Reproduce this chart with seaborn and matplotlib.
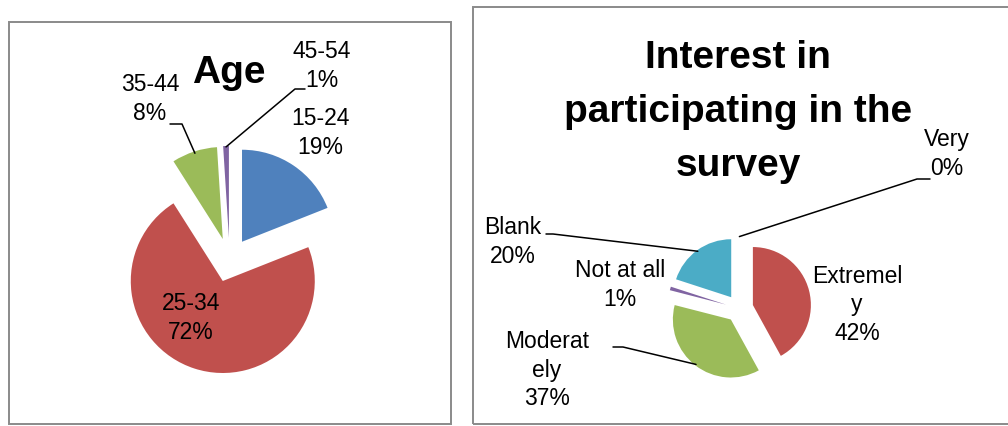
import matplotlib
matplotlib.use("Agg")
import matplotlib.pyplot as plt
from matplotlib.patches import Rectangle
import numpy as np
import seaborn as sns

# ---- data -------------------------------------------------------------
age_groups = ["15-24", "25-34", "35-44", "45-54"]
age_share = [19, 72, 8, 1]

interest_levels = ["Very", "Extremely", "Moderately", "Not at all", "Blank"]
interest_text = ["Very", "Extremel\ny", "Moderat\nely", "Not at all", "Blank"]
interest_share = [0, 42, 37, 1, 20]

age_title = ["Age"]
interest_title = ["Interest in", "participating in the", "survey"]

# ---- style ------------------------------------------------------------
sns.set_theme(style="white")
plt.rcParams["font.family"] = ["Liberation Sans", "DejaVu Sans"]

office = ["#4F81BD", "#C0504D", "#9BBB59", "#8064A2", "#4BACC6"]
age_colors = office[:4]
interest_colors = office[:5]

W, H = 1008, 426
fig = plt.figure(figsize=(W / 100, H / 100), dpi=100)
ax = fig.add_axes([0, 0, 1, 1])


def Y(y):
    """Convert a top-down pixel row into the upward data axis."""
    return H - y


def pct(v):
    return f"{v}%"


def tip(wedge, frac=1.0):
    """Point on a wedge's arc along its bisector."""
    cx, cy = wedge.center
    th = np.deg2rad(0.5 * (wedge.theta1 + wedge.theta2))
    return cx + frac * wedge.r * np.cos(th), cy + frac * wedge.r * np.sin(th)


def title_lines(x, first_baseline, lines, step=54):
    for i, line in enumerate(lines):
        ax.text(x, Y(first_baseline + i * step), line, ha="center",
                va="baseline", fontsize=title_size, fontweight="bold",
                color="black")


label_size = 16.5
title_size = 28

# ---- left chart: age --------------------------------------------------
r_age = 92
age_wedges, _ = ax.pie(
    age_share, colors=age_colors, startangle=90, counterclock=False,
    explode=[0.24 * r_age] * len(age_share), radius=r_age,
    center=(229.6, Y(260)), wedgeprops=dict(linewidth=0),
)
title_lines(229, 83, age_title)

age_label_pos = {"15-24": (320, 133), "25-34": (191, 318),
                 "35-44": (150, 99), "45-54": (322, 66)}
for name, val in zip(age_groups, age_share):
    x, y = age_label_pos[name]
    ax.text(x, Y(y), f"{name}\n{pct(val)}", ha="center", va="center",
            fontsize=label_size, linespacing=1.3, color="black")

# leader lines for the two small slices
w = age_wedges[age_groups.index("35-44")]
ex, ey = tip(w, 0.98)
ax.plot([170, 182, ex], [Y(124), Y(124), ey], color="black", lw=1.1)
w = age_wedges[age_groups.index("45-54")]
ex, ey = tip(w, 0.99)
ax.plot([305, 295, ex], [Y(89), Y(89), ey], color="black", lw=1.1)

# ---- right chart: interest --------------------------------------------
r_int = 58
int_wedges, _ = ax.pie(
    interest_share, colors=interest_colors, startangle=90, counterclock=False,
    explode=[0.24 * r_int] * len(interest_share), radius=r_int,
    center=(739.4, Y(308.5)), wedgeprops=dict(linewidth=0),
)
title_lines(738, 68, interest_title)

int_label_pos = {"Very": (947, 154), "Extremely": (857, 305),
                 "Moderately": (547, 370), "Not at all": (620, 285),
                 "Blank": (513, 242)}
for name, shown, val in zip(interest_levels, interest_text, interest_share):
    x, y = int_label_pos[name]
    ax.text(x, Y(y), f"{shown}\n{pct(val)}", ha="center", va="center",
            fontsize=label_size, linespacing=1.3, color="black")

w = int_wedges[interest_levels.index("Very")]
ex, ey = tip(w, 1.0)
ax.plot([930, 917, ex], [Y(179), Y(179), ey], color="black", lw=1.1)
w = int_wedges[interest_levels.index("Blank")]
ex, ey = tip(w, 0.98)
ax.plot([546, 553, ex], [Y(234), Y(234), ey], color="black", lw=1.1)
w = int_wedges[interest_levels.index("Moderately")]
ex, ey = tip(w, 0.98)
ax.plot([613, 623, ex], [Y(347), Y(347), ey], color="black", lw=1.1)

# ---- chart frames -----------------------------------------------------
frame_kw = dict(fill=False, edgecolor="#8a8a8a", linewidth=1.4)
ax.add_patch(Rectangle((9, Y(424)), 451 - 9, 424 - 22, **frame_kw))
ax.add_patch(Rectangle((473, Y(424)), 1015 - 473, 424 - 7, **frame_kw))

ax.set_xlim(0, W)
ax.set_ylim(0, H)
ax.set_aspect("equal")
ax.axis("off")

fig.savefig("out.png", dpi=100, facecolor="white")
